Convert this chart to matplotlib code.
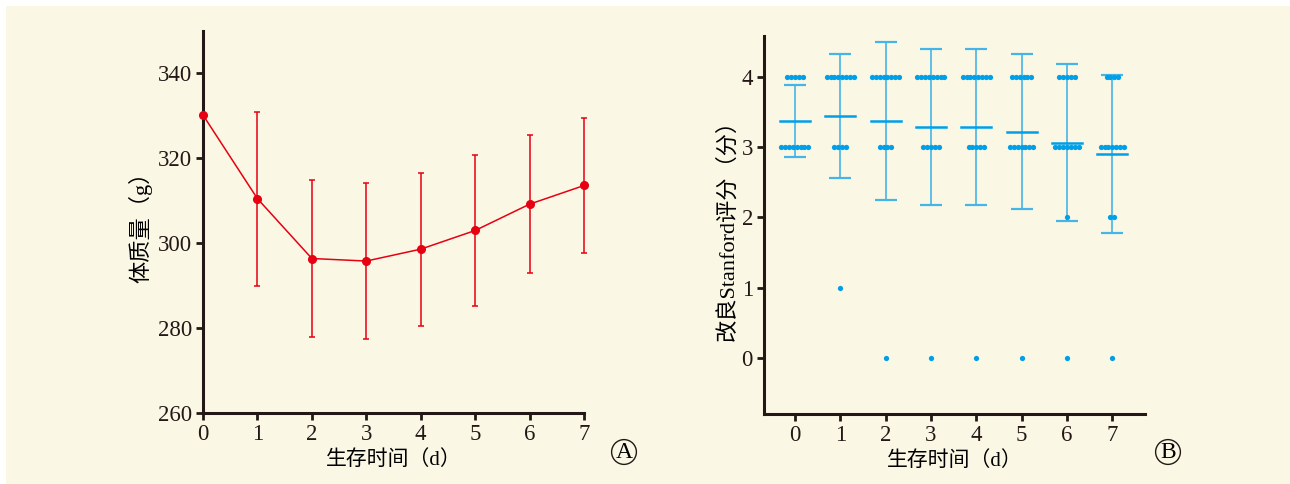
import numpy as np
import matplotlib.pyplot as plt
from matplotlib.patches import Rectangle

plt.rcParams['font.family'] = ['Liberation Serif', 'Noto Sans CJK SC']
plt.rcParams['axes.unicode_minus'] = False

# Panel A: body mass (g)
days = [0, 1, 2, 3, 4, 5, 6, 7]
mass_mean = [330.2, 310.5, 296.4, 295.8, 298.6, 303.0, 309.2, 313.6]
mass_sd = [0.0, 20.5, 18.6, 18.3, 18.0, 17.7, 16.2, 15.9]

# Panel B: modified Stanford score, counts of animals per score and day
n_score4 = [5, 8, 8, 8, 8, 6, 5, 4]
n_score3 = [8, 4, 4, 5, 5, 7, 7, 7]
n_score2 = [0, 0, 0, 0, 0, 0, 1, 2]
n_score1 = [0, 1, 0, 0, 0, 0, 0, 0]
n_score0 = [0, 0, 1, 1, 1, 1, 1, 1]
score_mean = [3.37, 3.44, 3.37, 3.29, 3.29, 3.22, 3.06, 2.90]
score_sd = [0.51, 0.88, 1.12, 1.11, 1.11, 1.10, 1.12, 1.12]

W, H = 1290, 484
cream = '#faf8e5'
axis_col = '#231815'
red = '#e60012'
blue = '#00a0e9'
blue_light = '#45b4e6'

fig = plt.figure(figsize=(W / 100, H / 100), dpi=100, facecolor='white')
fig.patches.append(Rectangle((6 / W, 0), 1, 1 - 6 / H, transform=fig.transFigure,
                             facecolor=cream, edgecolor='none', zorder=-10))


def px_axes(l, t, r, b):
    return fig.add_axes([l / W, 1 - b / H, (r - l) / W, (b - t) / H])


def style(ax):
    ax.set_facecolor('none')
    for s in ['top', 'right']:
        ax.spines[s].set_visible(False)
    for s in ['left', 'bottom']:
        ax.spines[s].set_linewidth(2.2)
        ax.spines[s].set_color(axis_col)
    ax.tick_params(direction='out', length=5, width=2, color=axis_col,
                   labelsize=16.5, labelcolor='#231815', pad=3)


# ---- A ----
axA = px_axes(203, 31, 584, 413)
style(axA)
axA.errorbar(days, mass_mean, yerr=mass_sd, color=red, lw=1.1, elinewidth=1.1,
             capsize=2, capthick=1.1, marker='o', ms=5.5, zorder=3, clip_on=False)
axA.set_xlim(0, 7)
axA.set_ylim(260, 350)
axA.set_xticks(days)
axA.set_yticks([260, 280, 300, 320, 340])
axA.set_ylabel('体质量（g）', fontsize=16, labelpad=4)
axA.set_xlabel('生存时间（d）', fontsize=15, labelpad=4)

# ---- B ----
axB = px_axes(764, 36, 1145, 414)
style(axB)
step = 0.085
for i, d in enumerate(days):
    for score, counts in [(4, n_score4), (3, n_score3), (2, n_score2),
                          (1, n_score1), (0, n_score0)]:
        n = counts[i]
        if n == 0:
            continue
        xs = d + (np.arange(n) - (n - 1) / 2) * step
        axB.plot(xs, [score] * n, 'o', color=blue, ms=3.8, mec='none', zorder=3)
    axB.errorbar([d], [score_mean[i]], yerr=[score_sd[i]], fmt='none',
                 ecolor=blue_light, elinewidth=1.2, capsize=8, capthick=1.6, zorder=2)
    axB.plot([d - 0.33, d + 0.33], [score_mean[i]] * 2, color=blue, lw=1.8, zorder=2)
axB.set_xlim(-0.68, 7.72)
axB.set_ylim(-0.8, 4.58)
axB.set_xticks(days)
axB.set_yticks([0, 1, 2, 3, 4])
axB.set_ylabel('改良Stanford评分（分）', fontsize=16, labelpad=2)
axB.set_xlabel('生存时间（d）', fontsize=15, labelpad=4)

for x, lab in [(624, 'A'), (1168, 'B')]:
    fig.text(x / W, 1 - 452 / H, lab, fontsize=17, ha='center', va='center',
             bbox=dict(boxstyle='circle,pad=0.08', fc='none', ec=axis_col, lw=1))

fig.savefig('out.png', dpi=100, facecolor=fig.get_facecolor())
